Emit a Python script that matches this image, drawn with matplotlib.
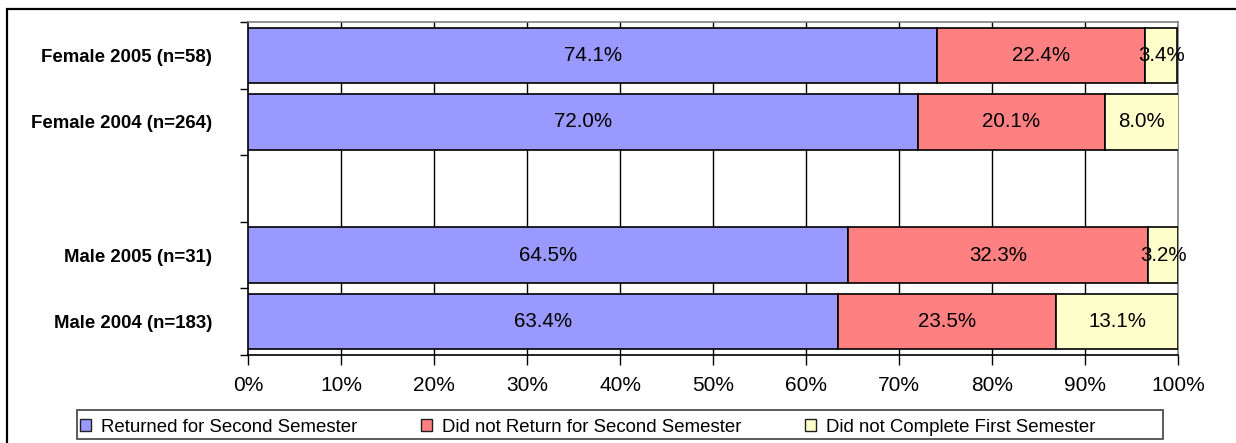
import matplotlib
matplotlib.use("Agg")
import matplotlib.pyplot as plt
from matplotlib.patches import Rectangle
import numpy as np

plt.rcParams['font.family'] = ['Liberation Sans', 'DejaVu Sans']

# Data
groups = ["Female 2005 (n=58)", "Female 2004 (n=264)", "", "Male 2005 (n=31)", "Male 2004 (n=183)"]
returned = [74.1, 72.0, None, 64.5, 63.4]
not_returned = [22.4, 20.1, None, 32.3, 23.5]
not_completed = [3.4, 8.0, None, 3.2, 13.1]
series_names = ["Returned for Second Semester",
                "Did not Return for Second Semester",
                "Did not Complete First Semester"]
colors = ["#9999FF", "#FF8080", "#FFFFCC"]
xticks = np.arange(0, 101, 10)

fig = plt.figure(figsize=(12.36, 4.43), dpi=100)
ax = fig.add_axes([248/1236, 1 - 355/443, 930/1236, 333/443])

pos = np.arange(len(groups))
series = [returned, not_returned, not_completed]
for i, g in enumerate(groups):
    if returned[i] is None:
        continue
    left = 0
    for s, vals in enumerate(series):
        v = vals[i]
        ax.barh(pos[i], v, left=left, height=0.83, color=colors[s],
                edgecolor="black", linewidth=1.2, zorder=3,
                label=series_names[s] if i == 0 else None)
        ax.text(left + v / 2, pos[i], "%.1f%%" % v, ha="center", va="center",
                fontsize=14.8, zorder=4)
        left += v

ax.set_xlim(0, 100)
ax.set_ylim(len(groups) - 0.5, -0.5)
ax.set_xticks(xticks)
ax.set_xticklabels(["%d%%" % t for t in xticks], fontsize=15)
ax.tick_params(axis="x", length=7, width=1, pad=8)
ax.set_yticks(pos)
ax.set_yticklabels(groups, fontsize=13.4, fontweight="bold")
ax.tick_params(axis="y", which="major", length=0, pad=26)
ax.set_yticks(np.arange(-0.5, len(groups), 1), minor=True)
ax.tick_params(axis="y", which="minor", length=6, width=1)

for t in xticks[1:-1]:
    ax.axvline(t, color="black", linewidth=1, zorder=1)

ax.spines["left"].set_color("black")
ax.spines["bottom"].set_color("black")
ax.spines["top"].set_color("#808080")
ax.spines["right"].set_color("#808080")
for sp in ax.spines.values():
    sp.set_linewidth(1.2)

leg = fig.legend(loc="center left", ncol=3,
                 bbox_to_anchor=(80/1236, 1 - 427/443),
                 fontsize=13.4, frameon=False,
                 handlelength=0.59, handleheight=0.59, handletextpad=0.55,
                 columnspacing=3.4, borderaxespad=0, borderpad=0)
for h in leg.legend_handles:
    h.set_edgecolor("#202020")
    h.set_linewidth(1.0)

# legend frame and outer chart border
fig.patches.append(Rectangle((77/1236, 1 - 439/443), 1086/1236, 29/443,
                             transform=fig.transFigure, fill=False,
                             edgecolor="#404040", linewidth=1.2))
fig.patches.append(Rectangle((7/1236, -0.05), 1.05, 1 - 9/443 + 0.05,
                             transform=fig.transFigure, fill=False,
                             edgecolor="black", linewidth=1.6))

fig.savefig("out.png", dpi=100)
